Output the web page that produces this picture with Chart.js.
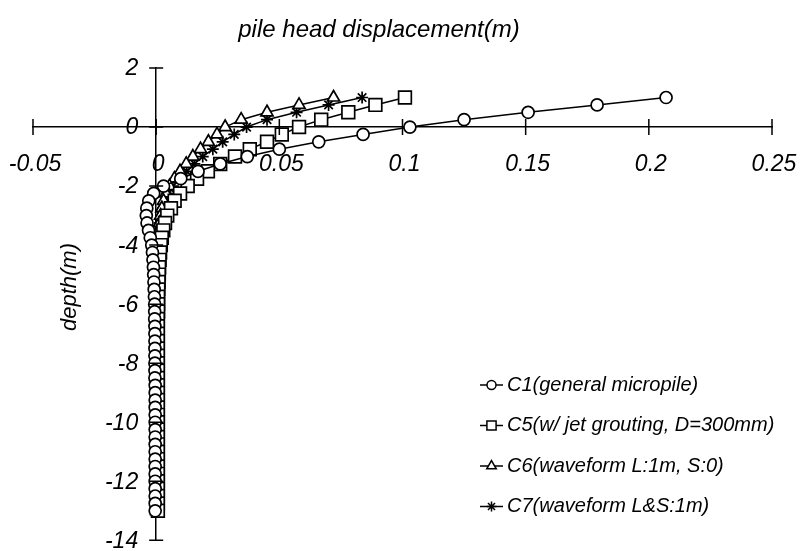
<!DOCTYPE html>
<html>
<head>
<meta charset="utf-8">
<script src="https://cdn.jsdelivr.net/npm/chart.js@4.4.1/dist/chart.umd.min.js"></script>
<style>
html, body { margin: 0; padding: 0; background: #fff; }
</style>
</head>
<body>
<canvas id="pileChart" width="800" height="551"></canvas>
<script>
const depth = [1, 0.75, 0.5, 0.25, 0, -0.25, -0.5, -0.75, -1, -1.25, -1.5, -1.75, -2, -2.25, -2.5, -2.75, -3, -3.25, -3.5, -3.75, -4,
  -4.25, -4.5, -4.75, -5, -5.25, -5.5, -5.75,
  -6, -6.25, -6.5, -6.75, -7, -7.25, -7.5, -7.75, -8, -8.25, -8.5, -8.75, -9, -9.25, -9.5, -9.75,
  -10, -10.25, -10.5, -10.75, -11, -11.25, -11.5, -11.75, -12, -12.25, -12.5, -12.75, -13];

const c1 = [0.207, 0.179, 0.151, 0.125, 0.103, 0.084, 0.066, 0.050, 0.037, 0.026, 0.017, 0.010, 0.003, -0.001, -0.003, -0.0038, -0.004, -0.0037, -0.0031, -0.0024, -0.0018,
  -0.0015, -0.0013, -0.0011, -0.001, -0.0009, -0.0008, -0.0007,
  -0.0006, -0.0006, -0.0006, -0.0005, -0.0005, -0.0005, -0.0005, -0.0005, -0.0005, -0.0005, -0.0005, -0.0004, -0.0004, -0.0004, -0.0004, -0.0004,
  -0.0004, -0.0004, -0.0004, -0.0004, -0.0004, -0.0004, -0.0004, -0.0004, -0.0004, -0.0004, -0.0004, -0.0004, -0.0004];

const c5 = [0.101, 0.089, 0.078, 0.067, 0.058, 0.051, 0.045, 0.038, 0.032, 0.026, 0.021, 0.0166, 0.0128, 0.0097, 0.0075, 0.006, 0.0045, 0.0036, 0.0029, 0.0023, 0.0019,
  0.0016, 0.0014, 0.0012, 0.0011, 0.001, 0.0009, 0.0008,
  0.0008, 0.0008, 0.0007, 0.0007, 0.0007, 0.0007, 0.0007, 0.0007, 0.0007, 0.0007, 0.0007, 0.0007, 0.0007, 0.0007, 0.0007, 0.0007,
  0.0007, 0.0007, 0.0007, 0.0007, 0.0007, 0.0007, 0.0007, 0.0007, 0.0007, 0.0007, 0.0007, 0.0007, 0.0007];

const c6 = [0.072, 0.058, 0.045, 0.0345, 0.028, 0.0247, 0.0212, 0.018, 0.0149, 0.0122, 0.0097, 0.0074, 0.0054, 0.004, 0.003, 0.0023, 0.0018, 0.0014, 0.0011, 0.0009, 0.0007,
  0.0006, 0.0005, 0.0005, 0.0004, 0.0004, 0.0004, 0.0003,
  0.0003, 0.0003, 0.0003, 0.0003, 0.0003, 0.0003, 0.0003, 0.0003, 0.0003, 0.0003, 0.0002, 0.0002, 0.0002, 0.0002, 0.0002, 0.0002,
  0.0002, 0.0002, 0.0002, 0.0002, 0.0002, 0.0002, 0.0002, 0.0002, 0.0002, 0.0002, 0.0002, 0.0002, 0.0002];

const c7 = [0.0836, 0.070, 0.057, 0.045, 0.0367, 0.0317, 0.027, 0.023, 0.0189, 0.0155, 0.0124, 0.0095, 0.0068, 0.005, 0.0037, 0.0028, 0.0021, 0.0016, 0.0013, 0.001, 0.0008,
  0.0007, 0.0006, 0.0006, 0.0005, 0.0005, 0.0004, 0.0004,
  0.0004, 0.0004, 0.0004, 0.0004, 0.0004, 0.0004, 0.0004, 0.0004, 0.0003, 0.0003, 0.0003, 0.0003, 0.0003, 0.0003, 0.0003, 0.0003,
  0.0003, 0.0003, 0.0003, 0.0003, 0.0003, 0.0003, 0.0003, 0.0003, 0.0003, 0.0003, 0.0003, 0.0003, 0.0003];

const seriesLabels = ["C1(general micropile)", "C5(w/ jet grouting, D=300mm)", "C6(waveform L:1m, S:0)", "C7(waveform L&S:1m)"];
const xTicks = [-0.05, 0, 0.05, 0.1, 0.15, 0.2, 0.25];
const yTicks = [2, 0, -2, -4, -6, -8, -10, -12, -14];

const fontFam = '"Liberation Sans", Arial, sans-serif';
const styles = ["circle", "rect", "triangle", "star"];
const radii = [6, 9, 7, 6];
const legendRadii = [4.5, 6.5, 5.5, 5];

function pairs(xs) {
  return xs.map((v, i) => ({ x: v, y: depth[i] }));
}

const seriesValues = [c1, c5, c6, c7];
const datasets = seriesValues.map((vals, i) => ({
  label: seriesLabels[i],
  data: pairs(vals),
  showLine: true,
  borderColor: "#000",
  borderWidth: 1.5,
  pointStyle: styles[i],
  pointRadius: radii[i],
  pointBackgroundColor: "#fff",
  pointBorderColor: "#000",
  pointBorderWidth: 1.7,
  tension: 0
}));

// crossing tick marks, tick labels, titles and legend
const decor = {
  id: "decor",
  beforeDraw(chart) {
    const ctx = chart.ctx;
    ctx.save();
    ctx.fillStyle = "#fff";
    ctx.fillRect(0, 0, chart.width, chart.height);
    ctx.restore();
  },
  afterDraw(chart) {
    const ctx = chart.ctx;
    const xs = chart.scales.x, ys = chart.scales.y;
    const y0 = ys.getPixelForValue(0), x0 = xs.getPixelForValue(0);
    ctx.save();
    ctx.strokeStyle = "#000";
    ctx.lineWidth = 1.5;
    ctx.beginPath();
    xTicks.forEach(t => {
      const px = xs.getPixelForValue(t);
      ctx.moveTo(px, y0 - 8); ctx.lineTo(px, y0 + 8);
    });
    yTicks.forEach(t => {
      const py = ys.getPixelForValue(t);
      ctx.moveTo(x0 - 7, py); ctx.lineTo(x0 + 7, py);
    });
    ctx.stroke();

    ctx.fillStyle = "#000";
    ctx.font = "italic 23px " + fontFam;
    ctx.textBaseline = "middle";
    ctx.textAlign = "center";
    xTicks.forEach(t => {
      ctx.fillText(String(t), xs.getPixelForValue(t) + 2, y0 + 38);
    });
    ctx.textAlign = "right";
    yTicks.forEach(t => {
      ctx.fillText(String(t), x0 - 18, ys.getPixelForValue(t) + 1);
    });

    ctx.textAlign = "center";
    ctx.font = "italic 24px " + fontFam;
    ctx.fillText("pile head displacement(m)", 379, 30);
    ctx.font = "italic 22px " + fontFam;
    ctx.save();
    ctx.translate(70, 287);
    ctx.rotate(-Math.PI / 2);
    ctx.fillText("depth(m)", 0, 0);
    ctx.restore();

    chart.data.datasets.forEach((ds, i) => {
      const ly = 385 + i * 40.5;
      ctx.strokeStyle = "#000";
      ctx.lineWidth = 1.5;
      ctx.beginPath();
      ctx.moveTo(480, ly); ctx.lineTo(503, ly);
      ctx.stroke();
      ctx.fillStyle = "#fff";
      Chart.helpers.drawPoint(ctx, { pointStyle: ds.pointStyle, radius: legendRadii[i], rotation: 0, borderWidth: 1.5 }, 491.5, ly);
      ctx.fillStyle = "#000";
      ctx.font = "italic 20px " + fontFam;
      ctx.textAlign = "left";
      ctx.fillText(ds.label, 507, ly);
    });
    ctx.restore();
  }
};

const config = {
  type: "scatter",
  data: { datasets: datasets },
  options: {
    responsive: false,
    animation: false,
    layout: { padding: { left: 33, right: 28, top: 68, bottom: 9 } },
    plugins: {
      legend: { display: false },
      title: { display: false },
      tooltip: { enabled: false }
    },
    scales: {
      x: {
        type: "linear",
        position: { y: 0 },
        min: -0.05,
        max: 0.25,
        afterBuildTicks: s => { s.ticks = xTicks.map(v => ({ value: v })); },
        ticks: { display: false },
        grid: { display: true, drawOnChartArea: false, drawTicks: false },
        border: { display: true, color: "#000", width: 1.5 }
      },
      y: {
        type: "linear",
        position: { x: 0 },
        min: -14,
        max: 2,
        afterBuildTicks: s => { s.ticks = yTicks.map(v => ({ value: v })); },
        ticks: { display: false },
        grid: { display: true, drawOnChartArea: false, drawTicks: false },
        border: { display: true, color: "#000", width: 1.5 }
      }
    }
  },
  plugins: [decor]
};

const myChart = new Chart(document.getElementById("pileChart"), config);
</script>
</body>
</html>
